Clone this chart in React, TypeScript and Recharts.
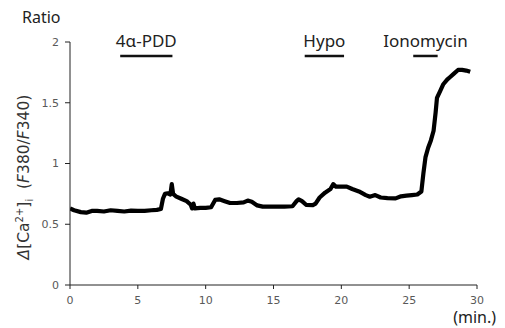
import React from 'react';
import { LineChart, Line, XAxis, YAxis, ReferenceLine, Label } from 'recharts';

const timeMin = [0.0, 0.3, 0.8, 1.2, 1.6, 2.0, 2.5, 3.0, 3.5, 4.0, 4.5, 5.0, 5.5, 6.0, 6.4, 6.7, 6.85, 7.0, 7.2, 7.4, 7.5, 7.6, 7.8, 8.2, 8.6, 8.9, 9.0, 9.1, 9.2, 9.6, 10.0, 10.4, 10.7, 11.0, 11.4, 11.8, 12.3, 12.8, 13.1, 13.4, 13.8, 14.2, 15.0, 15.8, 16.4, 16.7, 16.85, 17.1, 17.4, 17.9, 18.1, 18.4, 18.8, 19.2, 19.4, 19.6, 20.0, 20.4, 20.8, 21.3, 21.8, 22.1, 22.5, 22.9, 23.4, 24.0, 24.4, 24.8, 25.2, 25.6, 25.9, 26.05, 26.2, 26.4, 26.6, 26.8, 26.95, 27.05, 27.3, 27.5, 27.8, 28.0, 28.3, 28.6, 28.9, 29.2, 29.5];
const ratioValues = [0.63, 0.615, 0.6, 0.595, 0.61, 0.61, 0.605, 0.615, 0.61, 0.605, 0.612, 0.61, 0.61, 0.615, 0.618, 0.625, 0.71, 0.75, 0.755, 0.745, 0.83, 0.75, 0.73, 0.71, 0.69, 0.66, 0.63, 0.67, 0.63, 0.635, 0.635, 0.64, 0.7, 0.705, 0.69, 0.675, 0.675, 0.68, 0.695, 0.685, 0.655, 0.645, 0.645, 0.645, 0.648, 0.69, 0.705, 0.69, 0.66, 0.658, 0.67, 0.72, 0.76, 0.79, 0.83, 0.81, 0.81, 0.81, 0.79, 0.77, 0.74, 0.727, 0.74, 0.72, 0.715, 0.713, 0.73, 0.735, 0.74, 0.745, 0.77, 0.92, 1.05, 1.13, 1.19, 1.27, 1.42, 1.54, 1.6, 1.65, 1.69, 1.71, 1.74, 1.77, 1.77, 1.765, 1.755];

const xTicks = [0, 5, 10, 15, 20, 25, 30];
const yTicks = [0, 0.5, 1, 1.5, 2];

const eventNames = ['4α-PDD', 'Hypo', 'Ionomycin'];
const eventStart = [3.7, 17.3, 25.3];
const eventEnd = [7.55, 20.2, 27.1];
const eventLevel = 1.885;

const data = timeMin.map((t, i) => ({ t, r: ratioValues[i] }));

const labelFont = '"Noto Sans", sans-serif';
const tickFont = '"DejaVu Sans", Verdana, sans-serif';

const YLabel = () => (
  <g>
    <text x={22} y={23} fontFamily={labelFont} fontSize={16} fill="#222">Ratio</text>
    <text
      transform="translate(29,177) rotate(-90)"
      textAnchor="middle"
      fontFamily={tickFont}
      fontSize={15.5}
      fill="#333"
    >
      <tspan fontStyle="italic">Δ</tspan>
      <tspan>[Ca</tspan>
      <tspan fontSize={10} dy={-6}>2+</tspan>
      <tspan dy={6}>]</tspan>
      <tspan fontSize={10} dy={4}>i</tspan>
      <tspan dy={-4}>{'\u00a0\u00a0('}</tspan>
      <tspan fontStyle="italic">F</tspan>
      <tspan>380/</tspan>
      <tspan fontStyle="italic">F</tspan>
      <tspan>340)</tspan>
    </text>
  </g>
);

const XLabel = () => (
  <text x={496} y={323} textAnchor="end" fontFamily={labelFont} fontSize={16} fill="#222">(min.)</text>
);

export default function App() {
  return (
    <div style={{ position: 'absolute', left: 0, top: 0, width: 505, height: 328, background: '#fff' }}>
      <LineChart width={505} height={328} data={data} margin={{ top: 42, right: 28, bottom: 0, left: 0 }}>
        <XAxis
          dataKey="t"
          type="number"
          domain={[0, 30]}
          ticks={xTicks}
          height={43}
          tickSize={4}
          tickMargin={7}
          stroke="#222"
          tick={{ fill: '#595959', fontSize: 11, fontFamily: tickFont }}
          allowDataOverflow
        >
          <Label content={<XLabel />} />
        </XAxis>
        <YAxis
          type="number"
          domain={[0, 2]}
          ticks={yTicks}
          width={70}
          tickSize={5}
          tickMargin={6}
          stroke="#222"
          tick={{ fill: '#595959', fontSize: 11, fontFamily: tickFont }}
          tickFormatter={(v: number) => String(v)}
        >
          <Label content={<YLabel />} />
        </YAxis>
        {eventNames.map((name, i) => (
          <ReferenceLine
            key={name}
            segment={[{ x: eventStart[i], y: eventLevel }, { x: eventEnd[i], y: eventLevel }]}
            stroke="#111"
            strokeWidth={2.5}
            label={{ value: name, position: 'top', offset: 9, fill: '#222', fontSize: 17, fontFamily: labelFont }}
          />
        ))}
        <Line
          type="linear"
          dataKey="r"
          stroke="#000"
          strokeWidth={4.2}
          dot={false}
          isAnimationActive={false}
          strokeLinejoin="round"
        />
      </LineChart>
    </div>
  );
}
